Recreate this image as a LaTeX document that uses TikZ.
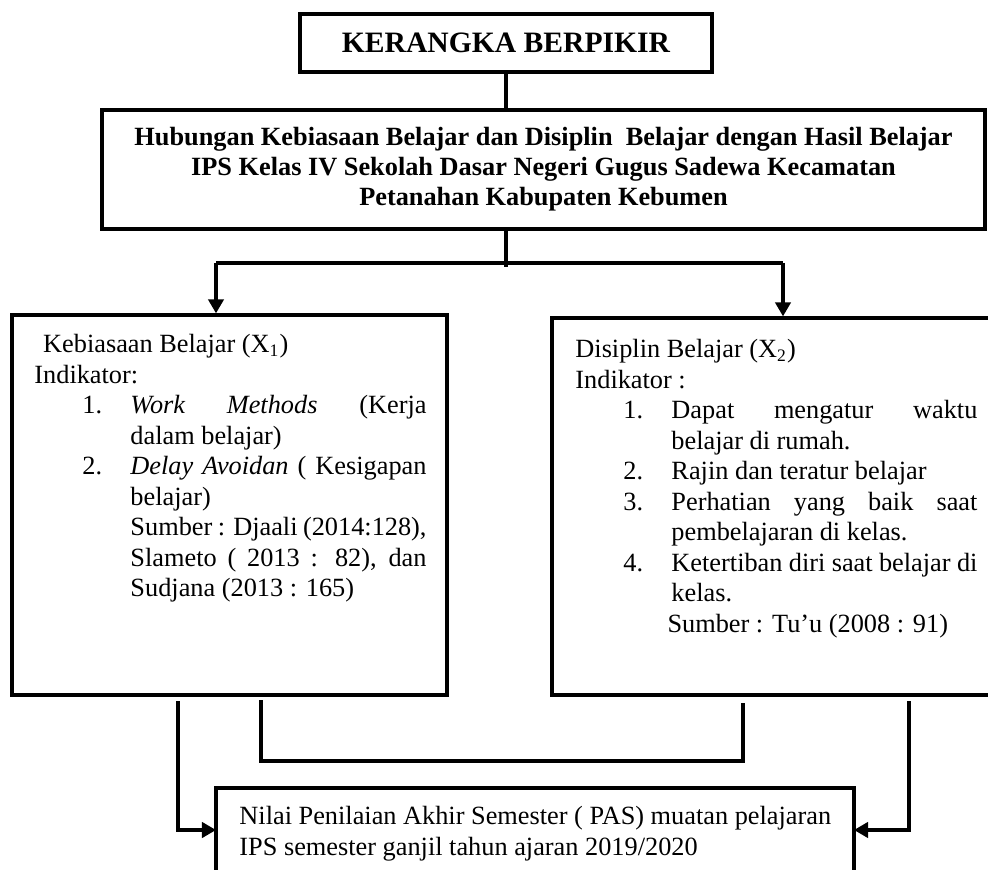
\documentclass[tikz,border=0pt]{standalone}
\usepackage{fontspec}
\setmainfont{Liberation Serif}
\usetikzlibrary{arrows.meta}
\setlength{\parindent}{0pt}
\newcommand{\butir}[2]{\par\noindent\hangindent=43.8pt \hangafter=0 \llap{\makebox[21.9pt][l]{#1}}#2\par}
\newcommand{\sumber}[2]{\par\noindent\hangindent=#1 \hangafter=0 #2\par}

\begin{document}
\begin{tikzpicture}[x=0.456pt, y=-0.456pt,
    kotak/.style={draw, line width=1.5pt, inner sep=0pt},
    teks/.style={inner sep=0pt, anchor=north west, font=\fontsize{12}{13.9}\selectfont},
    garis/.style={line width=1.45pt},
    panah/.style={garis, -{Triangle[length=6.4pt, width=7pt]}}]
    \useasboundingbox (0,0) rectangle (988,870);

    \node[kotak, minimum width=187.9pt, minimum height=26.4pt, font=\fontsize{13.5}{16}\selectfont\bfseries] (judul) at (506,43) {KERANGKA BERPIKIR};

    \node[kotak, minimum width=402.6pt, minimum height=54.3pt, align=center, font=\fontsize{12}{13.7}\selectfont\bfseries] (hub) at (543.5,169.5)
      {Hubungan Kebiasaan Belajar dan Disiplin~ Belajar dengan Hasil Belajar\\
       IPS Kelas IV Sekolah Dasar Negeri Gugus Sadewa Kecamatan\\
       Petanahan Kabupaten Kebumen};
      \draw[garis] (judul) -- (judul |- hub.north);

    \node[kotak, minimum width=198.4pt, minimum height=173.3pt] (kb) at (229.5,505) {};
    \node[teks, text width=178.8pt, align=justify] (kbt) at (34,334) {%
      \noindent\hspace*{4pt}Kebiasaan Belajar (X\textsubscript{1})\par
      \noindent Indikator:
      \butir{1.}{\textit{Work Methods} (Kerja\linebreak dalam belajar)}
      \butir{2.}{\textit{Delay Avoidan} ( Kesigapan\linebreak belajar)}
      \sumber{43.8pt}{Sumber : Djaali (2014:128),\linebreak Slameto ( 2013 : 82), dan\linebreak Sudjana (2013 : 165)}};

    \node[kotak, minimum width=204.3pt, minimum height=171.9pt] (dp) at (776,506.5) {};
    \node[teks, text width=183.3pt, align=justify] (dpt) at (575,339) {%
      \noindent Disiplin Belajar (X\textsubscript{2})\par
      \noindent Indikator :
      \butir{1.}{Dapat mengatur waktu\linebreak belajar di rumah.}
      \butir{2.}{Rajin dan teratur belajar}
      \butir{3.}{Perhatian yang baik saat\linebreak pembelajaran di kelas.}
      \butir{4.}{Ketertiban diri saat belajar di\linebreak kelas.}
      \sumber{42pt}{Sumber : Tu’u (2008 : 91)}};

    \coordinate (jc) at (506,267);
    \coordinate (jl) at (216,263);
    \coordinate (jr) at (783,263);
      \draw[garis] (judul |- hub.south) -- (jc);
      \draw[garis] (jl) -- (jr);
      \draw[panah] (jl) -- (jl |- kb.north);
      \draw[panah] (jr) -- (jr |- dp.north);

    \node[kotak, minimum width=290.9pt, minimum height=51.1pt] (pas) at (535,844) {};
    \node[teks, align=left, font=\fontsize{12}{14.1}\selectfont] (past) at (239,806)
      {Nilai Penilaian Akhir Semester ( PAS) muatan pelajaran\\
       IPS semester ganjil tahun ajaran 2019/2020};

    \coordinate (bka) at (261,700);
    \coordinate (bkb) at (743,703);
      \draw[garis] (bka) -- ++(0,61) -| (bkb);

    \coordinate (la) at (178,701);
    \coordinate (pl) at (216,830);
    \coordinate (ra) at (909,701);
    \coordinate (pr) at (854,830);
      \draw[panah] (la) |- (pl);
      \draw[panah] (ra) |- (pr);
\end{tikzpicture}
\end{document}
